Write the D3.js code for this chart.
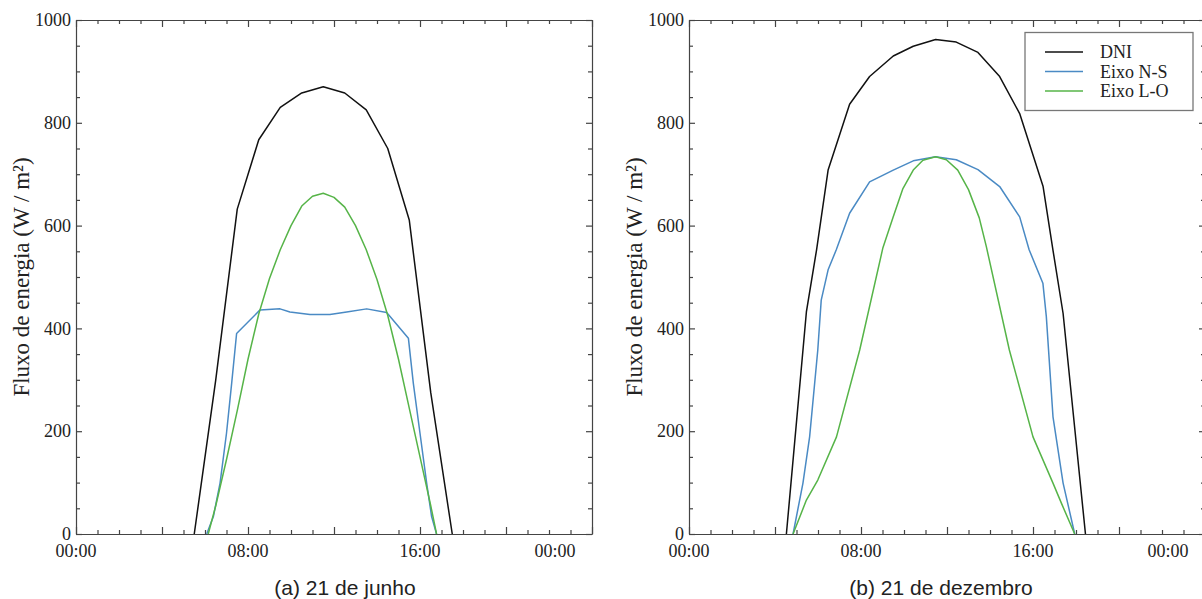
<!DOCTYPE html>
<meta charset="utf-8">
<style>
body { margin: 0; background: #fff; }
.tick text { font: 18px "Liberation Serif", serif; fill: #222; }
.axis path, .axis line { stroke: #444; stroke-width: 1.2px; }
.serie { fill: none; stroke-width: 1.5px; stroke-linejoin: round; }
.ylabel { font: 23px "Liberation Serif", serif; fill: #222; }
.caption { font: 21px "Liberation Sans", sans-serif; fill: #222; }
.legend text { font: 18px "Liberation Serif", serif; fill: #222; }
</style>
<body>
<svg width="1202" height="599"></svg>
<script src="https://cdn.jsdelivr.net/npm/d3@7"></script>
<script>
// 21 de junho
var junDniH = [5.5, 6.5, 7.5, 8.5, 9.5, 10.5, 11.5, 12.5, 13.5, 14.5, 15.5, 16.5, 17.5];
var junDniV = [0, 300, 632, 767, 830, 858, 870, 858, 825, 750, 611, 275, 0];
var junNsH = [6.08, 6.39, 6.7, 7.0, 7.24, 7.47, 8.56, 9.49, 9.95, 10.88, 11.81, 12.59, 13.52, 14.45, 15.46, 15.69, 16.0, 16.31, 16.54, 16.77];
var junNsV = [0, 34, 99, 196, 293, 390, 436, 438, 432, 427, 427, 432, 438, 431, 381, 293, 196, 99, 34, 0];
var junLoH = [6.15, 6.5, 7.0, 7.5, 8.0, 8.5, 9.0, 9.5, 10.0, 10.5, 11.0, 11.5, 12.0, 12.5, 13.0, 13.5, 14.0, 14.5, 15.0, 15.5, 16.0, 16.5, 16.77];
var junLoV = [0, 55, 145, 240, 340, 428, 497, 553, 600, 638, 657, 663, 655, 636, 600, 553, 495, 425, 340, 245, 150, 55, 0];

// 21 de dezembro
var decDniH = [4.53, 5.46, 5.93, 6.47, 7.47, 8.4, 9.5, 10.43, 11.47, 12.43, 13.44, 14.45, 15.38, 16.47, 16.93, 17.4, 18.44];
var decDniV = [0, 432, 552, 708, 836, 890, 930, 949, 962, 957, 937, 890, 818, 676, 552, 429, 0];
var decNsH = [4.84, 5.3, 5.61, 5.99, 6.15, 6.47, 6.85, 7.47, 8.4, 9.5, 10.43, 11.47, 12.43, 13.44, 14.45, 15.38, 15.82, 16.46, 16.62, 16.93, 17.4, 17.94];
var decNsV = [0, 99, 189, 358, 455, 514, 553, 624, 685, 708, 726, 734, 728, 709, 676, 617, 553, 488, 423, 228, 99, 0];
var decLoH = [4.84, 5.46, 5.99, 6.86, 7.94, 9.02, 9.5, 9.95, 10.43, 10.88, 11.47, 11.97, 12.5, 13.0, 13.5, 13.83, 14.9, 16.0, 16.93, 17.32, 17.94];
var decLoV = [0, 66, 105, 189, 358, 557, 617, 672, 708, 727, 734, 728, 708, 670, 615, 559, 358, 189, 99, 60, 0];

var seriesNames = ["DNI", "Eixo N-S", "Eixo L-O"];
var seriesColors = ["#111111", "#4a8ac4", "#56b448"];
var yTicks = [0, 200, 400, 600, 800, 1000];
var xLabels = ["00:00", "08:00", "16:00", "00:00"];
var captions = ["(a) 21 de junho", "(b) 21 de dezembro"];

var svg = d3.select("svg");
var plotTop = 20, plotBottom = 534, pw = 516;

function zip(h, v) { return h.map(function(d, i) { return [d, v[i]]; }); }

function panel(left, data, caption, captionX, showLegend) {
  var x = d3.scaleLinear().domain([0, 24]).range([left, left + pw]),
      y = d3.scaleLinear().domain([0, 1000]).range([plotBottom, plotTop]);
  var g = svg.append("g");

  // minor/major ticks on the x axes
  function hourTicks(sel) {
    sel.selectAll(".tick line").attr("y2", function(d) { return (d % 4 === 0 ? 7 : 4) * (+this.getAttribute("y2") > 0 ? 1 : -1); });
  }
  g.append("g").attr("class", "axis").attr("transform", "translate(0," + plotBottom + ")")
    .call(d3.axisBottom(x).tickValues(d3.range(0, 25)).tickSizeInner(-4).tickSizeOuter(0).tickFormat(""))
    .call(hourTicks);
  g.append("g").attr("class", "axis").attr("transform", "translate(0," + plotTop + ")")
    .call(d3.axisTop(x).tickValues(d3.range(0, 25)).tickSizeInner(-4).tickSizeOuter(0).tickFormat(""))
    .call(hourTicks);

  function valTicks(sel) {
    sel.selectAll(".tick line").attr("x2", function(d) { return (d % 200 === 0 ? 6 : 4) * (+this.getAttribute("x2") > 0 ? 1 : -1); });
  }
  g.append("g").attr("class", "axis").attr("transform", "translate(" + left + ",0)")
    .call(d3.axisLeft(y).tickValues(d3.range(0, 1001, 50)).tickSizeInner(-4).tickSizeOuter(0).tickPadding(5)
      .tickFormat(function(d) { return yTicks.indexOf(d) >= 0 ? d : ""; }))
    .call(valTicks);
  g.append("g").attr("class", "axis").attr("transform", "translate(" + (left + pw) + ",0)")
    .call(d3.axisRight(y).tickValues(d3.range(0, 1001, 50)).tickSizeInner(-4).tickSizeOuter(0).tickFormat(""))
    .call(valTicks);

  // time labels
  [0, 8, 16, 24].forEach(function(h, i) {
    g.append("text")
      .attr("x", x(h) - (h === 24 ? 37 : 0)).attr("y", plotBottom + 10).attr("dy", "0.71em")
      .attr("text-anchor", "middle")
      .style("font", "18px 'Liberation Serif', serif").style("fill", "#222")
      .text(xLabels[i]);
  });

  g.append("text").attr("class", "ylabel")
    .attr("transform", "translate(" + (left - 54) + "," + ((plotTop + plotBottom) / 2) + ") rotate(-90)")
    .attr("text-anchor", "middle").attr("dy", "0.3em")
    .text("Fluxo de energia (W / m²)");

  var line = d3.line().x(function(d) { return x(d[0]); }).y(function(d) { return y(d[1]); });
  data.forEach(function(s, i) {
    g.append("path").attr("class", "serie").attr("d", line(s)).style("stroke", seriesColors[i]);
  });

  g.append("text").attr("class", "caption")
    .attr("x", captionX).attr("y", 595).attr("text-anchor", "middle").text(caption);

  if (showLegend) {
    var lg = g.append("g").attr("class", "legend");
    lg.append("rect").attr("x", 1025).attr("y", 32.5).attr("width", 168).attr("height", 78)
      .attr("fill", "#fff").attr("stroke", "#777").attr("stroke-width", 1.3);
    seriesNames.forEach(function(n, i) {
      var yy = 52 + i * 19.5;
      lg.append("line").attr("x1", 1045).attr("x2", 1083).attr("y1", yy).attr("y2", yy)
        .attr("stroke", seriesColors[i]).attr("stroke-width", 1.5);
      lg.append("text").attr("x", 1100).attr("y", yy + 6).text(n);
    });
  }
}

panel(76, [zip(junDniH, junDniV), zip(junNsH, junNsV), zip(junLoH, junLoV)], captions[0], 345, false);
panel(689, [zip(decDniH, decDniV), zip(decNsH, decNsV), zip(decLoH, decLoV)], captions[1], 941, true);
</script>
</body>
